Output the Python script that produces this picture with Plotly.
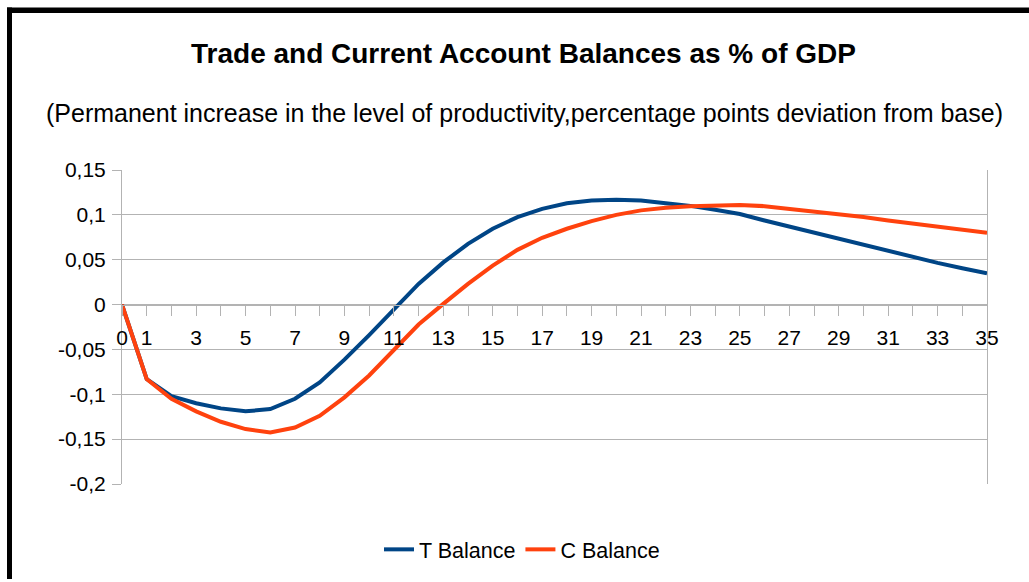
import plotly.graph_objects as go

periods = list(range(36))
t_balance = [0, -0.083, -0.102, -0.110, -0.1157, -0.119, -0.1165, -0.105, -0.0867, -0.0614,
             -0.034, -0.005, 0.023, 0.047, 0.0677, 0.0845, 0.0975, 0.1067, 0.113, 0.116,
             0.1168, 0.116, 0.1135, 0.110, 0.1057, 0.101, 0.0937, 0.087, 0.080, 0.0725,
             0.0658, 0.0592, 0.0528, 0.0465, 0.0405, 0.035]
c_balance = [0, -0.083, -0.105, -0.119, -0.1306, -0.1388, -0.1425, -0.137, -0.124, -0.1034,
             -0.079, -0.0513, -0.0223, 0.0008, 0.023, 0.0435, 0.061, 0.0744, 0.0845, 0.093,
             0.100, 0.105, 0.108, 0.1097, 0.1105, 0.111, 0.1097, 0.1067, 0.104, 0.101,
             0.0975, 0.0937, 0.090, 0.0863, 0.0833, 0.080]

x_tickvals = [0, 1] + list(range(3, 36, 2))
x_ticktext = [str(v) for v in x_tickvals]
y_tickvals = [0.15, 0.1, 0.05, 0, -0.05, -0.1, -0.15, -0.2]
y_ticktext = ["0,15", "0,1", "0,05", "0", "-0,05", "-0,1", "-0,15", "-0,2"]

title = "Trade and Current Account Balances as % of GDP"
subtitle = "(Permanent increase in the level of productivity,percentage points deviation from base)"

W, H = 1029, 582
L, R, T, B = 122, 42, 170, 95
PW, PH = W - L - R, H - T - B


def px_x(p):
    return (p - L) / PW


def px_y(p):
    return (H - B - p) / PH


fig = go.Figure()
fig.add_trace(go.Scatter(x=periods, y=t_balance, mode="lines", name="T Balance",
                         line=dict(color="#004586", width=4)))
fig.add_trace(go.Scatter(x=periods, y=c_balance, mode="lines", name="C Balance",
                         line=dict(color="#ff420e", width=4)))

grid = "#b3b3b3"
font = "Liberation Sans, Arial, sans-serif"
zero_pos = (0 - (-0.2)) / 0.35

fig.update_layout(
    width=W, height=H,
    margin=dict(l=L, r=R, t=T, b=B, pad=0),
    paper_bgcolor="white", plot_bgcolor="white",
    font=dict(family=font, size=21, color="#000000"),
    showlegend=True,
    legend=dict(orientation="h", x=px_x(522), xanchor="center", y=px_y(553), yanchor="middle",
                font=dict(size=21.5), itemwidth=30, tracegroupgap=0),
    xaxis=dict(range=[0, 35], anchor="free", position=zero_pos, showgrid=False, zeroline=False,
               showline=True, linecolor=grid, linewidth=1,
               tickmode="array", tickvals=x_tickvals, ticktext=x_ticktext,
               ticks="outside", ticklen=10, tickcolor=grid, tickwidth=1,
               ticklabelstandoff=4,
               minor=dict(tickmode="linear", tick0=0, dtick=1, ticks="outside", ticklen=10,
                          tickcolor=grid, tickwidth=1, showgrid=False),
               tickfont=dict(size=21)),
    yaxis=dict(range=[-0.2, 0.15], showgrid=True, gridcolor=grid, gridwidth=1, zeroline=False,
               showline=True, linecolor=grid, linewidth=1, mirror=True,
               tickmode="array", tickvals=y_tickvals, ticktext=y_ticktext,
               ticks="outside", ticklen=9, tickcolor=grid, tickwidth=1,
               ticklabelstandoff=2,
               tickfont=dict(size=21)),
    annotations=[
        dict(text="<b>" + title + "</b>", xref="paper", yref="paper", x=px_x(523), y=px_y(52),
             xanchor="center", yanchor="middle", showarrow=False, font=dict(size=28)),
        dict(text=subtitle, xref="paper", yref="paper", x=px_x(524), y=px_y(112),
             xanchor="center", yanchor="middle", showarrow=False, font=dict(size=25)),
    ],
    shapes=[
        dict(type="rect", xref="paper", yref="paper", x0=px_x(7), x1=px_x(1030), y0=px_y(11.5),
             y1=px_y(6), fillcolor="black", line=dict(width=0), layer="above"),
        dict(type="rect", xref="paper", yref="paper", x0=px_x(7), x1=px_x(12), y0=px_y(583),
             y1=px_y(6), fillcolor="black", line=dict(width=0), layer="above"),
    ],
)

fig.write_html("out.html", config={"displayModeBar": False},
               post_script="document.body.style.margin='0px';document.body.style.overflow='hidden';")
